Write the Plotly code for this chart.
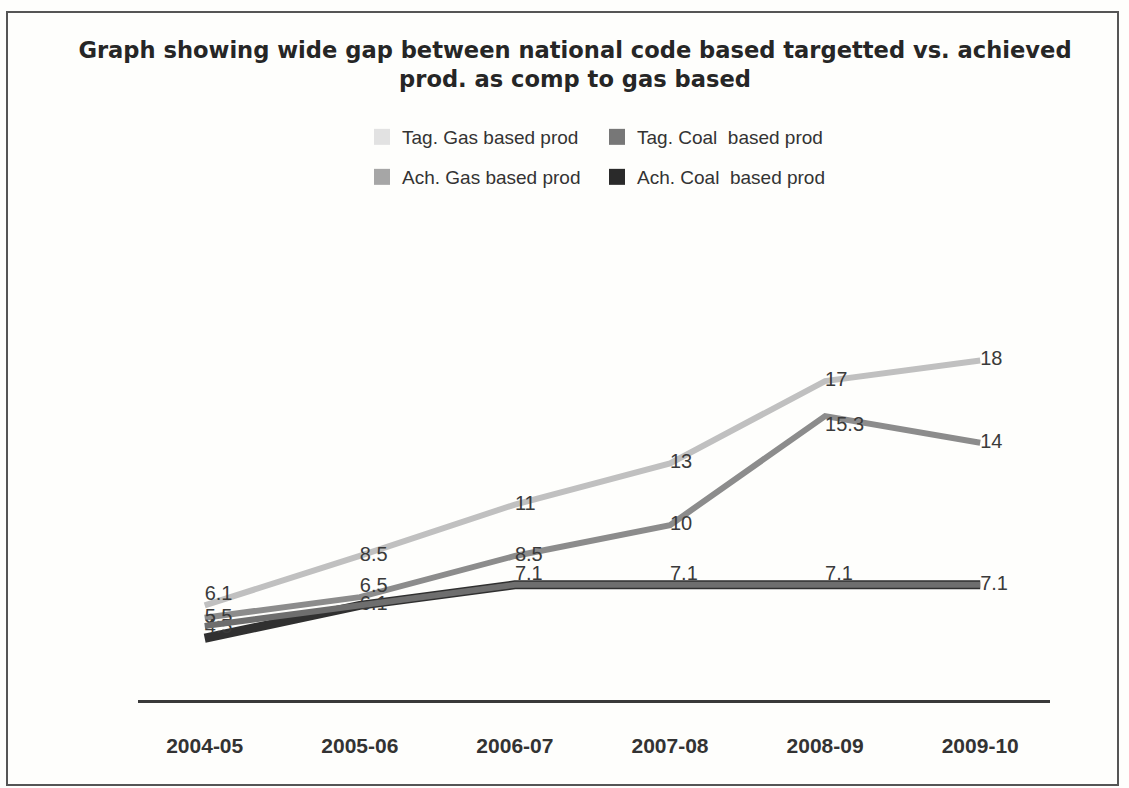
import plotly.graph_objects as go

years = ["2004-05", "2005-06", "2006-07", "2007-08", "2008-09", "2009-10"]
tag_gas = [6.1, 8.5, 11, 13, 17, 18]
ach_gas = [5.5, 6.5, 8.5, 10, 15.3, 14]
tag_coal = [5.1, 6.1, 7.1, 7.1, 7.1, 7.1]
ach_coal = [4.5, 6.1, 7.1, 7.1, 7.1, 7.1]
tag_gas_labels = [str(v) for v in tag_gas]
ach_gas_labels = [str(v) for v in ach_gas]
tag_coal_labels = ["", "", "7.1", "7.1", "7.1", "7.1"]
ach_coal_labels = ["4.5", "6.1", "", "", "", ""]

W, H = 1129, 788
L, R, T, B = 138, 1050, 200, 700

def px_x(p):
    return (p - L) / (R - L)

def px_y(p):
    return (B - p) / (B - T)

fig = go.Figure()

lab_font = dict(family="Liberation Sans, Arial", size=20, color="#3a3a3a")

# (name, values, labels, line colour, width, legend colour, legend id, text positions)
series = [
    ("Tag. Gas based prod", tag_gas, tag_gas_labels, "#c0c0c0", 6, "#e2e2e2", "legend",
     ["top right", "middle right", "middle right", "middle right", "middle right", "middle right"]),
    ("Ach. Gas based prod", ach_gas, ach_gas_labels, "#8c8c8c", 6, "#a6a6a6", "legend3",
     ["middle right", "top right", "middle right", "middle right", "bottom right", "middle right"]),
    ("Ach. Coal  based prod", ach_coal, ach_coal_labels, "#303030", 9, "#2a2a2a", "legend4",
     ["top right", "middle right", "middle right", "middle right", "middle right", "middle right"]),
    ("Tag. Coal  based prod", tag_coal, tag_coal_labels, "#6e6e6e", 6, "#777777", "legend2",
     ["middle right", "middle right", "top right", "top right", "top right", "middle right"]),
]

for name, vals, labels, col, w, lcol, lg, tpos in series:
    fig.add_trace(go.Scatter(
        x=years, y=vals, mode="lines+text", text=labels,
        textposition=tpos, textfont=lab_font,
        line=dict(color=col, width=w), showlegend=False, hoverinfo="skip",
    ))

# legend-only entries (square swatches)
for name, vals, labels, col, w, lcol, lg, tpos in series:
    fig.add_trace(go.Scatter(
        x=[None], y=[None], mode="markers", name=name,
        marker=dict(symbol="square", size=20, color=lcol),
        legend=lg, showlegend=True,
    ))

leg_common = dict(
    orientation="h", xanchor="left", yanchor="middle",
    font=dict(family="Liberation Sans, Arial", size=19, color="#333333"),
    bgcolor="rgba(0,0,0,0)", itemwidth=30,
)

fig.update_layout(
    width=W, height=H,
    margin=dict(l=L, r=W - R, t=T, b=H - B),
    paper_bgcolor="#fefefc", plot_bgcolor="#fefefc",
    title=dict(
        text="Graph showing wide gap between national code based targetted vs. achieved<br>prod. as comp to gas based",
        x=575 / W, xanchor="center", y=1 - 58 / H, yanchor="top",
        font=dict(family="DejaVu Sans, Arial", size=22.6, color="#262626", weight="bold"),
    ),
    legend=dict(x=px_x(362), y=px_y(137), **leg_common),
    legend2=dict(x=px_x(597), y=px_y(137), **leg_common),
    legend3=dict(x=px_x(362), y=px_y(177), **leg_common),
    legend4=dict(x=px_x(597), y=px_y(177), **leg_common),
    xaxis=dict(
        type="category", range=[-0.43, 5.45], showgrid=False, zeroline=False,
        showline=True, linecolor="#3a3a3a", linewidth=3,
        ticks="", ticklabelstandoff=25,
        tickfont=dict(family="Liberation Sans, Arial", size=21, color="#333333", weight="bold"),
    ),
    yaxis=dict(range=[1.5, 25.8], showgrid=False, zeroline=False, showticklabels=False, showline=False),
    showlegend=True,
)

fig.add_shape(type="rect", xref="paper", yref="paper",
              x0=px_x(7), x1=px_x(1118), y0=px_y(785), y1=px_y(12),
              line=dict(color="#555555", width=2), fillcolor="rgba(0,0,0,0)", layer="below")

fig.write_html("out.html")
